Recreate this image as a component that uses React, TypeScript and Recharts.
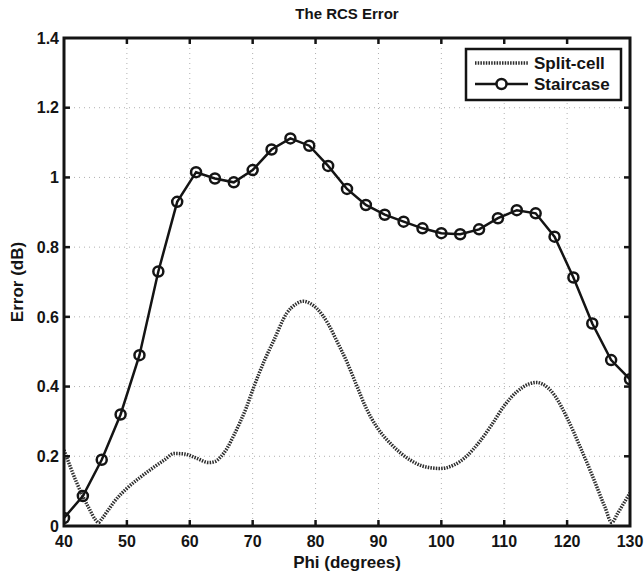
import React from "react";
import { LineChart, Line, XAxis, YAxis, CartesianGrid } from "recharts";

const xTicks = [40, 50, 60, 70, 80, 90, 100, 110, 120, 130];
const yTicks = [0, 0.2, 0.4, 0.6, 0.8, 1, 1.2, 1.4];

// Staircase: sampled every 3 degrees
const stairPhi = [
  40, 43, 46, 49, 52, 55, 58, 61, 64, 67, 70, 73, 76, 79, 82, 85, 88, 91, 94, 97, 100, 103,
  106, 109, 112, 115, 118, 121, 124, 127, 130,
];
const stairErr = [
  0.023, 0.086, 0.19, 0.32, 0.49, 0.73, 0.93, 1.015, 0.997, 0.986, 1.021, 1.08, 1.112, 1.091,
  1.033, 0.967, 0.921, 0.893, 0.873, 0.854, 0.84, 0.837, 0.851, 0.883, 0.906, 0.897, 0.83,
  0.713, 0.581, 0.476, 0.421,
];

// Split-cell: dense trace of the smooth dotted curve
const splitPhi = [
  40, 41, 42, 43, 44, 45, 45.5, 46, 47, 48, 50, 52, 54, 56, 57.5, 59, 61, 63, 64, 65, 66, 67,
  68, 69, 70, 72, 73.3, 75.4, 77, 78, 79, 80.2, 82, 83.4, 85, 86.6, 88, 89.7, 92, 95, 97, 99.8,
  102, 104, 106, 108, 110, 112, 114, 115.1, 116, 118, 120, 122, 124, 126, 127.1, 128, 129, 130,
];
const splitErr = [
  0.218, 0.17, 0.125, 0.085, 0.05, 0.018, 0.01, 0.02, 0.045, 0.07, 0.108, 0.138, 0.165, 0.19,
  0.208, 0.207, 0.195, 0.182, 0.185, 0.2, 0.225, 0.26, 0.298, 0.34, 0.39, 0.48, 0.53, 0.61,
  0.638, 0.645, 0.64, 0.624, 0.58, 0.53, 0.47, 0.4, 0.34, 0.285, 0.235, 0.19, 0.172, 0.165,
  0.175, 0.2, 0.24, 0.29, 0.345, 0.385, 0.408, 0.412, 0.408, 0.375, 0.31, 0.23, 0.145, 0.055,
  0.01, 0.035, 0.065, 0.095,
];

// one row per phi value; each series is null where it has no sample
const allPhi = Array.from(new Set([...stairPhi, ...splitPhi])).sort((a, b) => a - b);
const data = allPhi.map((x) => {
  const si = stairPhi.indexOf(x);
  const pi = splitPhi.indexOf(x);
  return {
    x,
    stair: si >= 0 ? stairErr[si] : null,
    split: pi >= 0 ? splitErr[pi] : null,
  };
});

const FONT = '"Liberation Sans", Arial, sans-serif';
const INK = "#141414";

const W = 644;
const H = 573;
const MARGIN = { top: 38, right: 14, left: 8, bottom: 0 };
const Y_AXIS_W = 56;
const X_AXIS_H = 47;
// plot box, same numbers recharts uses for its layout
const PL = MARGIN.left + Y_AXIS_W;
const PR = W - MARGIN.right;
const PT = MARGIN.top;
const PB = H - MARGIN.bottom - X_AXIS_H;
const sx = (v: number) => PL + ((v - xTicks[0]) / (xTicks[xTicks.length - 1] - xTicks[0])) * (PR - PL);
const sy = (v: number) => PB - ((v - yTicks[0]) / (yTicks[yTicks.length - 1] - yTicks[0])) * (PB - PT);
const TICK = 6;

function XLabel({ viewBox }: any) {
  const { x, y, width } = viewBox;
  return (
    <text x={x + width / 2} y={y + 42} textAnchor="middle" fontFamily={FONT} fontWeight="bold" fontSize={17} fill={INK}>
      Phi (degrees)
    </text>
  );
}

function YLabel({ viewBox }: any) {
  const { x, y, height } = viewBox;
  const cx = x + 15;
  const cy = y + height / 2;
  return (
    <text x={cx} y={cy} transform={`rotate(-90 ${cx} ${cy})`} textAnchor="middle" fontFamily={FONT} fontWeight="bold" fontSize={17} fill={INK}>
      Error (dB)
    </text>
  );
}

// MATLAB-style box with inward ticks on all four sides
function Frame() {
  return (
    <g stroke={INK} fill="none">
      {xTicks.slice(1, -1).map((t) => (
        <g key={`x${t}`} strokeWidth={2.5}>
          <line x1={sx(t)} x2={sx(t)} y1={PB} y2={PB - TICK} />
          <line x1={sx(t)} x2={sx(t)} y1={PT} y2={PT + TICK} />
        </g>
      ))}
      {yTicks.slice(1, -1).map((t) => (
        <g key={`y${t}`} strokeWidth={2.5}>
          <line x1={PL} x2={PL + TICK} y1={sy(t)} y2={sy(t)} />
          <line x1={PR} x2={PR - TICK} y1={sy(t)} y2={sy(t)} />
        </g>
      ))}
      <rect x={PL} y={PT} width={PR - PL} height={PB - PT} strokeWidth={3} />
    </g>
  );
}

export default function App() {
  const tickStyle = { fontFamily: FONT, fontWeight: "bold", fontSize: 16, fill: INK };
  return (
    <div style={{ position: "absolute", left: 0, top: 0, width: W, height: H, background: "#fff" }}>
      <LineChart width={W} height={H} data={data} margin={MARGIN}>
        <CartesianGrid stroke="#b0b0b0" strokeDasharray="1 4" />
        <XAxis
          type="number"
          dataKey="x"
          domain={[40, 130]}
          ticks={xTicks}
          allowDataOverflow
          height={X_AXIS_H}
          axisLine={false}
          tickLine={false}
          tickSize={0}
          tickMargin={10}
          tick={tickStyle}
          label={<XLabel />}
        />
        <YAxis
          type="number"
          domain={[0, 1.4]}
          ticks={yTicks}
          allowDataOverflow
          width={Y_AXIS_W}
          axisLine={false}
          tickLine={false}
          tickSize={0}
          tickMargin={5}
          tick={tickStyle}
          label={<YLabel />}
        />
        <Line
          dataKey="split"
          type="monotone"
          name="Split-cell"
          stroke="#2e2e2e"
          strokeWidth={3.5}
          strokeDasharray="1.5 1.2"
          dot={false}
          connectNulls
          isAnimationActive={false}
        />
        <Line
          dataKey="stair"
          type="linear"
          name="Staircase"
          stroke={INK}
          strokeWidth={2.5}
          dot={{ r: 5, fill: "none", stroke: INK, strokeWidth: 2.5 }}
          connectNulls
          isAnimationActive={false}
        />
      </LineChart>
      <svg width={W} height={H} style={{ position: "absolute", left: 0, top: 0, pointerEvents: "none" }}>
        <Frame />
        <text x={(PL + PR) / 2} y={19} textAnchor="middle" fontFamily={FONT} fontWeight="bold" fontSize={15} fill={INK}>
          The RCS Error
        </text>
        <rect x={466} y={49} width={155} height={51} fill="#fff" stroke={INK} strokeWidth={2.5} />
        <line x1={475} x2={528} y1={63} y2={63} stroke="#2e2e2e" strokeWidth={3.5} strokeDasharray="1.5 1.2" />
        <text x={534} y={69} fontFamily={FONT} fontWeight="bold" fontSize={17} fill={INK}>
          Split-cell
        </text>
        <line x1={475} x2={528} y1={84} y2={84} stroke={INK} strokeWidth={2.5} />
        <circle cx={501.5} cy={84} r={5} fill="#fff" stroke={INK} strokeWidth={2.5} />
        <text x={534} y={90} fontFamily={FONT} fontWeight="bold" fontSize={17} fill={INK}>
          Staircase
        </text>
      </svg>
    </div>
  );
}
